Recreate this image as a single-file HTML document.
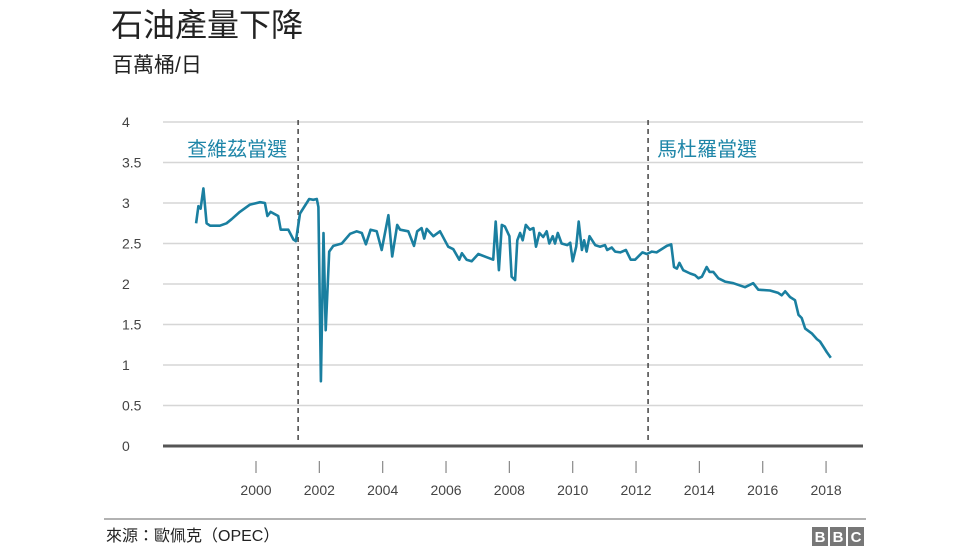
<!DOCTYPE html>
<html><head><meta charset="utf-8"><style>
body{margin:0;background:#fff;width:976px;height:549px;overflow:hidden;font-family:"Liberation Sans","Noto Sans CJK TC",sans-serif;}
</style></head><body>
<svg width="976" height="549" style="position:absolute;left:0;top:0">
<text x="111" y="36" font-size="32" fill="#222" font-family="Liberation Sans, Noto Sans CJK TC, sans-serif">石油產量下降</text>
<text x="112" y="72" font-size="21" fill="#222" font-family="Liberation Sans, Noto Sans CJK TC, sans-serif">百萬桶/日</text>
<g id="grid"></g>
<g id="ann"></g>
<path id="line" fill="none" stroke="#1a7fa0" stroke-width="2.6" stroke-linejoin="round"></path>
<line x1="104" y1="519" x2="866" y2="519" stroke="#999" stroke-width="1.5"/>
<text x="106" y="541" font-size="16" fill="#222" font-family="Liberation Sans, Noto Sans CJK TC, sans-serif">來源：歐佩克（OPEC）</text>
<g font-family="Liberation Sans, sans-serif" font-weight="bold" font-size="15" fill="#fff" text-anchor="middle">
<rect x="812" y="527" width="16" height="19" fill="#777"/><rect x="830" y="527" width="16" height="19" fill="#777"/><rect x="848" y="527" width="16" height="19" fill="#777"/>
<text x="820" y="542">B</text><text x="838" y="542">B</text><text x="856" y="542">C</text></g>
</svg>
<script>
const yTicks=[0,0.5,1,1.5,2,2.5,3,3.5,4];
const yTickLabels=["0","0.5","1","1.5","2","2.5","3","3.5","4"];
const xTicks=[2000,2002,2004,2006,2008,2010,2012,2014,2016,2018];
const eventYears=[2001.33,2012.38];
const eventLabels=["查維茲當選","馬杜羅當選"];
const years=[1998.11,1998.18,1998.25,1998.34,1998.44,1998.55,1998.86,1999.07,1999.23,1999.49,1999.81,2000.13,2000.28,2000.36,2000.46,2000.70,2000.78,2001.02,2001.18,2001.26,2001.39,2001.68,2001.81,2001.92,2001.97,2002.05,2002.13,2002.20,2002.31,2002.44,2002.71,2002.97,2003.18,2003.34,2003.47,2003.62,2003.81,2003.97,2004.18,2004.30,2004.46,2004.55,2004.81,2004.99,2005.09,2005.23,2005.31,2005.39,2005.60,2005.81,2006.07,2006.23,2006.42,2006.50,2006.65,2006.81,2007.02,2007.29,2007.49,2007.57,2007.67,2007.76,2007.86,2008.00,2008.07,2008.18,2008.25,2008.34,2008.42,2008.52,2008.65,2008.76,2008.84,2008.95,2009.07,2009.18,2009.26,2009.37,2009.44,2009.53,2009.65,2009.83,2009.92,2010.00,2010.11,2010.19,2010.29,2010.36,2010.44,2010.53,2010.71,2010.86,2011.02,2011.09,2011.23,2011.34,2011.50,2011.68,2011.83,2011.97,2012.20,2012.34,2012.50,2012.65,2012.97,2013.11,2013.20,2013.29,2013.37,2013.49,2013.71,2013.86,2013.97,2014.08,2014.23,2014.32,2014.44,2014.60,2014.81,2015.07,2015.44,2015.70,2015.86,2016.23,2016.49,2016.60,2016.71,2016.86,2017.02,2017.13,2017.23,2017.34,2017.55,2017.71,2017.81,2017.94,2018.02,2018.15];
const production=[2.75,2.96,2.93,3.18,2.75,2.72,2.72,2.75,2.80,2.89,2.98,3.01,3.00,2.84,2.89,2.84,2.67,2.67,2.55,2.53,2.87,3.05,3.04,3.05,2.95,0.80,2.63,1.43,2.40,2.47,2.50,2.62,2.65,2.63,2.49,2.67,2.65,2.42,2.85,2.34,2.73,2.67,2.65,2.47,2.65,2.69,2.56,2.68,2.59,2.65,2.46,2.43,2.30,2.38,2.30,2.28,2.37,2.33,2.30,2.77,2.17,2.73,2.71,2.59,2.09,2.05,2.54,2.63,2.54,2.73,2.67,2.69,2.46,2.63,2.58,2.65,2.50,2.59,2.50,2.63,2.50,2.48,2.51,2.28,2.46,2.77,2.42,2.54,2.40,2.59,2.48,2.46,2.48,2.42,2.45,2.40,2.39,2.42,2.30,2.30,2.39,2.37,2.40,2.39,2.47,2.49,2.21,2.19,2.26,2.17,2.13,2.11,2.07,2.09,2.21,2.15,2.15,2.07,2.03,2.01,1.96,2.01,1.93,1.92,1.89,1.86,1.91,1.84,1.80,1.62,1.58,1.45,1.39,1.32,1.29,1.21,1.16,1.09];
const NS="http://www.w3.org/2000/svg";
const X=y=>256+(y-2000)*31.67;
const Y=v=>446-v*81;
const grid=document.getElementById('grid');
function mk(tag,attrs,parent){const e=document.createElementNS(NS,tag);for(const k in attrs)e.setAttribute(k,attrs[k]);parent.appendChild(e);return e;}
yTicks.forEach((v,i)=>{
  const l=mk('line',{x1:163,x2:863,y1:Y(v),y2:Y(v),stroke:v===0?'#555':'#d6d6d6','stroke-width':v===0?3:1.5},grid);
  
  
  const t=mk('text',{x:122,y:Y(v)+5,'font-size':14,fill:'#444'},grid);
  t.textContent=yTickLabels[i];
  
  
});
xTicks.forEach(yr=>{
  const l=mk('line',{x1:X(yr),x2:X(yr),y1:461,y2:473,stroke:'#888','stroke-width':1.2},grid);
  
  
  const t=mk('text',{x:X(yr),y:495,'font-size':14,fill:'#444','text-anchor':'middle'},grid);
  t.textContent=yr;
  
  
});
const ann=document.getElementById('ann');
eventYears.forEach((yr,i)=>{
  const l=mk('line',{x1:X(yr),x2:X(yr),y1:120,y2:444,stroke:'#444','stroke-width':1.5,'stroke-dasharray':'5,4'},ann);
  
  
  const t=mk('text',{x:X(yr)-111+(i?120:0),y:156,'font-size':20,fill:'#1f86a8','font-family':'Liberation Sans, Noto Sans CJK TC, sans-serif'},ann);
  t.textContent=eventLabels[i];
  
  
});
document.getElementById('line').setAttribute('d',years.map((yr,i)=>(i?'L':'M')+X(yr).toFixed(1)+' '+Y(production[i]).toFixed(1)).join(' '));
</script>
</body></html>
